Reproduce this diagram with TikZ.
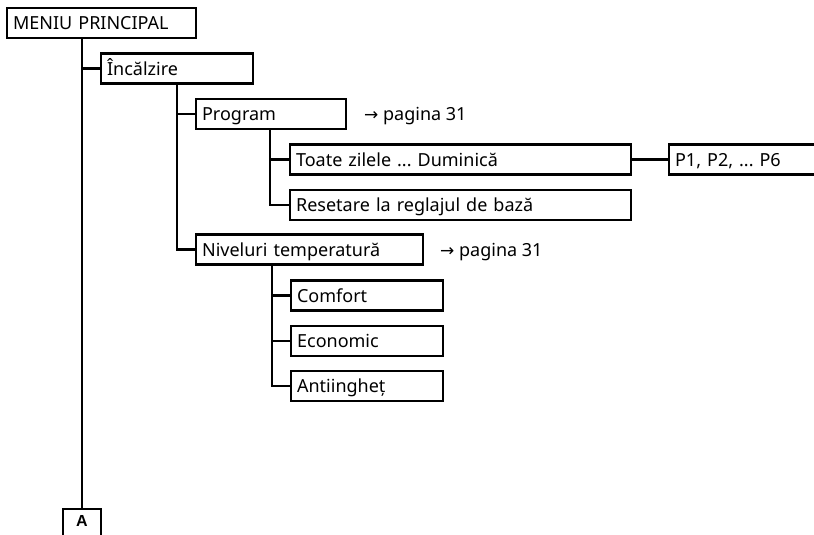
\documentclass[tikz,border=0pt]{standalone}
\usepackage{fontspec}
\setmainfont{Noto Sans}
\newfontfamily\arrowfont{DejaVu Sans}
\newfontfamily\labelfont{Liberation Sans}
\frenchspacing
\begin{document}
\begin{tikzpicture}[x=1pt,y=-1pt,
  menubox/.style={draw,line width=2.2pt,anchor=west,
    inner xsep=6pt,inner ysep=0pt,align=left,text height=21.5pt,text depth=8.5pt,
    font=\fontsize{18}{20}\selectfont},
  link/.style={line width=2.2pt},
  ref/.style={anchor=west,inner sep=0pt,text height=21.5pt,text depth=8.5pt,
    font=\fontsize{18}{20}\selectfont}]
\useasboundingbox (0,0) rectangle (814,535);
% menu boxes: position = left edge, vertical centre
\node[menubox,text width=177pt] (menu) at (6,23) {MENIU PRINCIPAL};
\node[menubox,text width=140pt] (inc) at (100,68.5) {Încălzire};
\node[menubox,text width=138pt] (prog) at (195,114) {Program};
\node[ref] (r1) at (364,114) {{\arrowfont\fontsize{17}{19}\selectfont →}\ pagina 31};
\node[menubox,text width=329pt] (toate) at (289,159.5) {Toate zilele ... Duminică};
\node[menubox,text width=160pt] (p1) at (668,159.5) {P1, P2, ... P6};
\node[menubox,text width=329pt] (reset) at (289,205) {Resetare la reglajul de bază};
\node[menubox,text width=215pt] (niv) at (195,249.5) {Niveluri temperatură};
\node[ref] (r2) at (440,249.5) {{\arrowfont\fontsize{17}{19}\selectfont →}\ pagina 31};
\node[menubox,text width=140pt] (comf) at (290,295.5) {Comfort};
\node[menubox,text width=140pt] (econ) at (290,341) {Economic};
\node[menubox,text width=140pt] (anti) at (290,386) {Antiingheț};
\node[draw,line width=2.2pt,anchor=north,minimum width=38pt,minimum height=40pt,
  inner sep=0pt] (a) at (82,508) {};
\node[anchor=north,inner sep=0pt,font=\labelfont\bfseries\fontsize{16}{18}\selectfont] (alab) at (82,515) {A};
% connectors
\draw[link] (menu.south west -| a.north) -- (a.north);
\draw[link] (inc.west -| a.north) -- (inc.west);
\draw[link] (inc.south west) ++(77,0) coordinate (t1) -- (t1 |- niv.west) -- (niv.west);
\draw[link] (t1 |- prog.west) -- (prog.west);
\draw[link] (prog.south west) ++(75,0) coordinate (t2) -- (t2 |- reset.west) -- (reset.west);
\draw[link] (t2 |- toate.west) -- (toate.west);
\draw[link] (toate.east) -- (p1.west);
\draw[link] (niv.south west) ++(77,0) coordinate (t3) -- (t3 |- anti.west) -- (anti.west);
\draw[link] (t3 |- comf.west) -- (comf.west);
\draw[link] (t3 |- econ.west) -- (econ.west);
\end{tikzpicture}
\end{document}
